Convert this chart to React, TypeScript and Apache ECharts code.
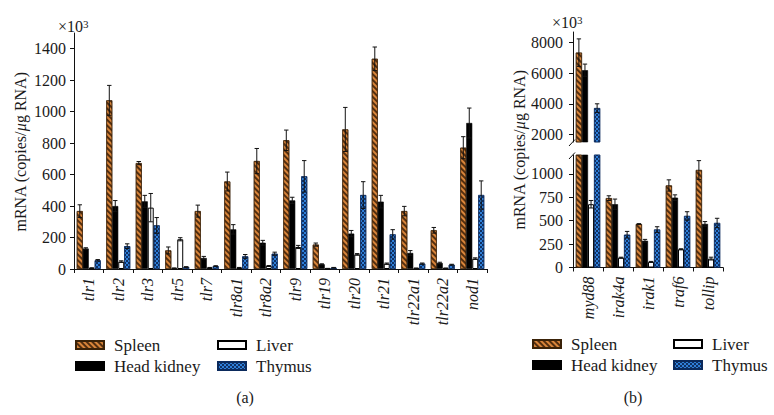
import React, { useEffect, useRef } from "react";
import * as echarts from "echarts";

const catsL = ["tlr1", "tlr2", "tlr3", "tlr5", "tlr7", "tlr8a1", "tlr8a2", "tlr9", "tlr19", "tlr20", "tlr21", "tlr22a1", "tlr22a2", "nod1"];
const spleenL = [368, 1072, 673, 118, 368, 556, 686, 818, 155, 887, 1336, 368, 246, 771];
const spleenErrL = [40, 95, 10, 22, 38, 60, 80, 65, 10, 140, 75, 30, 18, 70];
const hkL = [130, 400, 430, 5, 70, 252, 167, 436, 30, 225, 428, 102, 38, 928];
const hkErrL = [5, 35, 38, 2, 10, 30, 15, 20, 3, 20, 40, 15, 5, 95];
const liverL = [6, 47, 390, 189, 8, 8, 19, 140, 3, 93, 34, 5, 5, 66];
const liverErrL = [2, 5, 90, 10, 2, 2, 3, 10, 1, 5, 4, 1, 1, 5];
const thymusL = [55, 145, 277, 12, 18, 80, 97, 589, 8, 470, 220, 34, 27, 470];
const thymusErrL = [5, 15, 50, 3, 3, 12, 10, 100, 2, 85, 30, 4, 3, 90];

const catsR = ["myd88", "irak4a", "irak1", "traf6", "tollip"];
const spleenR = [7350, 740, 463, 875, 1040];
const spleenErrR = [900, 25, 5, 60, 100];
const hkR = [6200, 675, 285, 745, 465];
const hkErrR = [400, 55, 15, 30, 25];
const liverR = [675, 105, 60, 195, 95];
const liverErrR = [40, 5, 5, 5, 15];
const thymusR = [3720, 350, 405, 550, 475];
const thymusErrR = [280, 35, 30, 45, 50];

const ticksL = [0, 200, 400, 600, 800, 1000, 1200, 1400];
const ticksRUpper = [2000, 4000, 6000, 8000];
const ticksRLower = [0, 250, 500, 750, 1000];

const seriesNames = ["Spleen", "Head kidney", "Liver", "Thymus"];

const FONT = "Liberation Serif";
const TXT = "#1a1a1a";
const GAP = 0.19;

const styles: any[] = [
  {
    color: "#d9853a",
    borderColor: "#3a2208",
    borderWidth: 0.6,
    decal: {
      symbol: "rect",
      symbolSize: 1,
      color: "rgba(50,25,5,0.8)",
      dashArrayX: [1, 0],
      dashArrayY: [1.3, 1.7],
      rotation: Math.PI / 4,
    },
  },
  { color: "#000000", borderColor: "#000000", borderWidth: 0.6, decal: "none" },
  { color: "#ffffff", borderColor: "#000000", borderWidth: 1, decal: "none" },
  {
    color: "#2f7fd8",
    borderColor: "#0b2a5c",
    borderWidth: 0.6,
    decal: {
      symbol: "rect",
      symbolSize: 1,
      color: "rgba(10,35,80,0.85)",
      dashArrayX: [[1.5, 1.5], [0, 1.5, 1.5, 0]],
      dashArrayY: [1.5, 0],
      rotation: 0,
    },
  },
];

function errRender(params: any, api: any) {
  const cat = api.value(0);
  const val = api.value(1);
  const err = api.value(2);
  const si = api.value(3);
  const band = api.size([1, 0])[0];
  const bw = (band * (1 - GAP)) / 4;
  const x = api.coord([cat, val])[0] + (si - 1.5) * bw;
  const yTop = api.coord([cat, val + err])[1];
  const yBot = api.coord([cat, Math.max(val - err, 0)])[1];
  const cw = 2.2;
  const ls = { stroke: "#111", lineWidth: 1 };
  return {
    type: "group",
    children: [
      { type: "line", shape: { x1: x, y1: yTop, x2: x, y2: yBot }, style: ls },
      { type: "line", shape: { x1: x - cw, y1: yTop, x2: x + cw, y2: yTop }, style: ls },
      { type: "line", shape: { x1: x - cw, y1: yBot, x2: x + cw, y2: yBot }, style: ls },
    ],
  };
}

function errData(vals: number[][], errs: number[][], filt: (v: number, e: number) => boolean) {
  const out: number[][] = [];
  vals.forEach((arr, si) => {
    arr.forEach((v, ci) => {
      const e = errs[si][ci];
      if (filt(v, e)) out.push([ci, v, e, si]);
    });
  });
  return out;
}

function yAxisBase(min: number, max: number, ticks: number[], margin: number, gridIndex: number) {
  return {
    type: "value",
    gridIndex,
    min,
    max,
    splitLine: { show: false },
    axisLine: { show: true, lineStyle: { color: "#111", width: 1 } },
    axisTick: { show: true, inside: false, length: 4, customValues: ticks, lineStyle: { color: "#111" } },
    axisLabel: {
      customValues: ticks,
      margin,
      fontFamily: FONT,
      fontSize: 16,
      color: TXT,
      formatter: (v: number) => String(v),
    },
  };
}

function xAxisBase(cats: string[], gridIndex: number, show: boolean) {
  return {
    type: "category",
    data: cats,
    gridIndex,
    show,
    boundaryGap: true,
    axisLine: { show: true, lineStyle: { color: "#111", width: 1 } },
    axisTick: { show: true, length: 4, alignWithLabel: false, lineStyle: { color: "#111" } },
    axisLabel: {
      interval: 0,
      rotate: 90,
      margin: 9,
      fontFamily: FONT,
      fontSize: 16,
      fontStyle: "italic",
      color: TXT,
    },
  };
}

function legendItem(name: string, left: number, cy: number) {
  return {
    data: [name],
    left,
    top: cy - 8.5,
    padding: 0,
    icon: "rect",
    itemWidth: 28,
    itemHeight: 8,
    selectedMode: false,
    textStyle: { fontFamily: FONT, fontSize: 17, lineHeight: 17, color: TXT, padding: [0, 0, 0, 5] },
  };
}

export default function App() {
  const ref = useRef<HTMLDivElement>(null);
  useEffect(() => {
    if (!ref.current) return;
    const chart = echarts.init(ref.current, null, { renderer: "svg" });
    const valsL = [spleenL, hkL, liverL, thymusL];
    const errsL = [spleenErrL, hkErrL, liverErrL, thymusErrL];
    const valsR = [spleenR, hkR, liverR, thymusR];
    const errsR = [spleenErrR, hkErrR, liverErrR, thymusErrR];

    const series: any[] = [];
    valsL.forEach((d, i) => {
      series.push({
        type: "bar",
        name: seriesNames[i],
        xAxisIndex: 0,
        yAxisIndex: 0,
        data: d,
        barGap: 0,
        barCategoryGap: GAP * 100 + "%",
        itemStyle: styles[i],
        clip: true,
      });
    });
    series.push({
      type: "custom",
      xAxisIndex: 0,
      yAxisIndex: 0,
      renderItem: errRender,
      data: errData(valsL, errsL, () => true),
      z: 5,
    });
    valsR.forEach((d, i) => {
      series.push({
        type: "bar",
        name: seriesNames[i],
        xAxisIndex: 1,
        yAxisIndex: 1,
        data: d,
        barGap: 0,
        barCategoryGap: GAP * 100 + "%",
        itemStyle: styles[i],
        clip: true,
      });
    });
    series.push({
      type: "custom",
      xAxisIndex: 1,
      yAxisIndex: 1,
      renderItem: errRender,
      data: errData(valsR, errsR, (v, e) => v + e <= 1200),
      z: 5,
    });
    valsR.forEach((d, i) => {
      series.push({
        type: "bar",
        name: seriesNames[i],
        xAxisIndex: 2,
        yAxisIndex: 2,
        data: d,
        barGap: 0,
        barCategoryGap: GAP * 100 + "%",
        itemStyle: styles[i],
        clip: true,
      });
    });
    series.push({
      type: "custom",
      xAxisIndex: 2,
      yAxisIndex: 2,
      renderItem: errRender,
      data: errData(valsR, errsR, (v) => v > 1600),
      z: 5,
    });

    const sup = { fontFamily: FONT, fontSize: 11, verticalAlign: "top", lineHeight: 10, fill: TXT };
    const mainText = { fontFamily: FONT, fontSize: 16, fill: TXT };
    const option: any = {
      animation: false,
      backgroundColor: "#ffffff",
      textStyle: { fontFamily: FONT },
      grid: [
        { left: 74, top: 33, width: 413, height: 236 },
        { left: 573, top: 155, width: 150, height: 112.5 },
        { left: 573, top: 32, width: 150, height: 110 },
      ],
      xAxis: [xAxisBase(catsL, 0, true), xAxisBase(catsR, 1, true), xAxisBase(catsR, 2, false)],
      yAxis: [
        yAxisBase(0, 1500, ticksL, 8, 0),
        yAxisBase(0, 1200, ticksRLower, 10, 1),
        yAxisBase(1500, 8700, ticksRUpper, 10, 2),
      ],
      legend: [
        legendItem("Spleen", 75, 345),
        legendItem("Head kidney", 75, 366),
        legendItem("Liver", 217, 345),
        legendItem("Thymus", 217, 366),
        legendItem("Spleen", 532, 344),
        legendItem("Head kidney", 532, 365),
        legendItem("Liver", 673, 344),
        legendItem("Thymus", 673, 365),
      ],
      graphic: [
        {
          type: "text",
          x: 58,
          y: 26,
          style: { ...mainText, text: "×10{s|3}", verticalAlign: "middle", rich: { s: sup } },
        },
        {
          type: "text",
          x: 552,
          y: 22,
          style: { ...mainText, text: "×10{s|3}", verticalAlign: "middle", rich: { s: sup } },
        },
        {
          type: "text",
          x: 20,
          y: 152,
          rotation: Math.PI / 2,
          style: {
            ...mainText,
            text: "mRNA (copies/{i|μ}g RNA)",
            align: "center",
            verticalAlign: "middle",
            rich: { i: { fontFamily: FONT, fontSize: 16, fontStyle: "italic", fill: TXT } },
          },
        },
        {
          type: "text",
          x: 519,
          y: 150,
          rotation: Math.PI / 2,
          style: {
            ...mainText,
            text: "mRNA (copies/{i|μ}g RNA)",
            align: "center",
            verticalAlign: "middle",
            rich: { i: { fontFamily: FONT, fontSize: 16, fontStyle: "italic", fill: TXT } },
          },
        },
        {
          type: "line",
          shape: { x1: 569, y1: 146, x2: 575, y2: 139.5 },
          style: { stroke: "#111", lineWidth: 1 },
        },
        {
          type: "line",
          shape: { x1: 569, y1: 159, x2: 575, y2: 152.5 },
          style: { stroke: "#111", lineWidth: 1 },
        },
        {
          type: "text",
          x: 245,
          y: 397,
          style: { ...mainText, text: "(a)", align: "center", verticalAlign: "middle" },
        },
        {
          type: "text",
          x: 633,
          y: 397,
          style: { ...mainText, text: "(b)", align: "center", verticalAlign: "middle" },
        },
      ],
      series,
    };
    chart.setOption(option);
    return () => chart.dispose();
  }, []);
  return (
    <div
      ref={ref}
      style={{ position: "fixed", left: 0, top: 0, width: 774, height: 415, background: "#fff" }}
    />
  );
}
